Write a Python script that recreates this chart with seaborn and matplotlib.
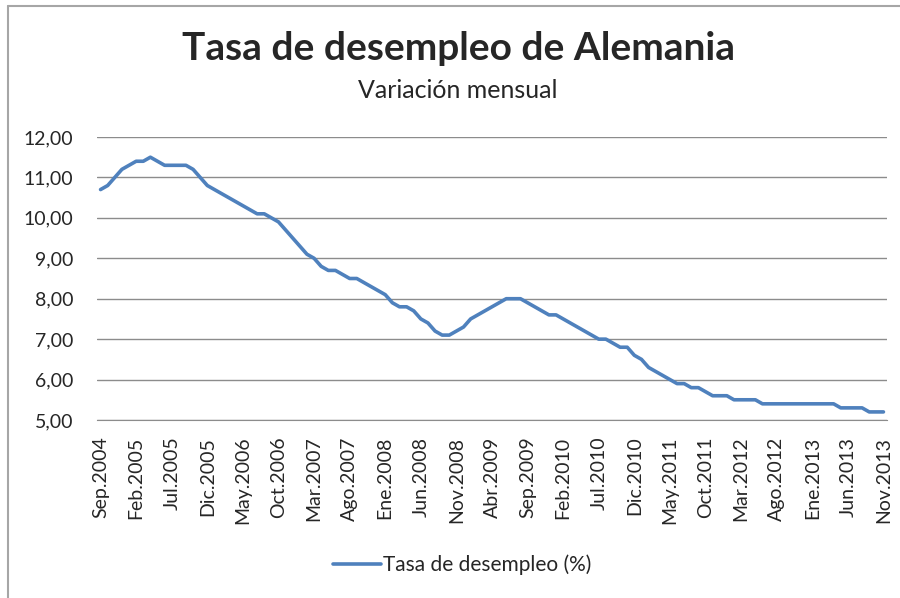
import matplotlib
matplotlib.use("Agg")
import matplotlib.pyplot as plt
from matplotlib.lines import Line2D
from matplotlib.ticker import FuncFormatter
import numpy as np
import pandas as pd
import seaborn as sns

# Spanish month abbreviations used on the category axis
meses = ["Ene", "Feb", "Mar", "Abr", "May", "Jun",
         "Jul", "Ago", "Sep", "Oct", "Nov", "Dic"]

# Monthly unemployment rate, Sep.2004 .. Nov.2013
tasa = [
    10.7, 10.8, 11.0, 11.2,                                              # 2004 Sep-Dic
    11.3, 11.4, 11.4, 11.5, 11.4, 11.3, 11.3, 11.3, 11.3, 11.2, 11.0, 10.8,  # 2005
    10.7, 10.6, 10.5, 10.4, 10.3, 10.2, 10.1, 10.1, 10.0, 9.9, 9.7, 9.5,     # 2006
    9.3, 9.1, 9.0, 8.8, 8.7, 8.7, 8.6, 8.5, 8.5, 8.4, 8.3, 8.2,              # 2007
    8.1, 7.9, 7.8, 7.8, 7.7, 7.5, 7.4, 7.2, 7.1, 7.1, 7.2, 7.3,              # 2008
    7.5, 7.6, 7.7, 7.8, 7.9, 8.0, 8.0, 8.0, 7.9, 7.8, 7.7, 7.6,              # 2009
    7.6, 7.5, 7.4, 7.3, 7.2, 7.1, 7.0, 7.0, 6.9, 6.8, 6.8, 6.6,              # 2010
    6.5, 6.3, 6.2, 6.1, 6.0, 5.9, 5.9, 5.8, 5.8, 5.7, 5.6, 5.6,              # 2011
    5.6, 5.5, 5.5, 5.5, 5.5, 5.4, 5.4, 5.4, 5.4, 5.4, 5.4, 5.4,              # 2012
    5.4, 5.4, 5.4, 5.4, 5.3, 5.3, 5.3, 5.3, 5.2, 5.2, 5.2,                   # 2013 Ene-Nov
]

# build month labels starting at Sep.2004
etiquetas = []
for k in range(len(tasa)):
    m = (8 + k) % 12
    y = 2004 + (8 + k) // 12
    etiquetas.append(f"{meses[m]}.{y}")

df = pd.DataFrame({"idx": np.arange(len(tasa)), "tasa": tasa, "mes": etiquetas})

sns.set_style("white")
plt.rcParams["font.family"] = ["Lato", "DejaVu Sans"]

fig = plt.figure(figsize=(9, 5.98), dpi=100)
ax = fig.add_axes([97 / 900, 1 - 420 / 598, 790 / 900, 283 / 598])

sns.lineplot(data=df, x="idx", y="tasa", ax=ax, color="#4F81BD",
             linewidth=2.6, label="Tasa de desempleo (%)")

ax.set_xlim(-0.5, len(tasa) - 0.5)
ax.set_ylim(5, 12)
ax.set_yticks(np.arange(5, 12.5, 1))
ax.yaxis.set_major_formatter(FuncFormatter(lambda v, p: f"{v:.2f}".replace(".", ",")))
ax.set_xticks(df["idx"][::5])
ax.set_xticklabels(df["mes"][::5], rotation=90, fontsize=14)
ax.tick_params(axis="y", labelsize=14, length=0, pad=17)
ax.tick_params(axis="x", length=0, pad=12)
ax.set_xlabel("")
ax.set_ylabel("")

ax.grid(axis="y", color="#8c8c8c", linewidth=1)
ax.grid(axis="x", visible=False)
for s in ["top", "right", "left"]:
    ax.spines[s].set_visible(False)
ax.spines["bottom"].set_color("#8c8c8c")

ax.legend(loc="center", bbox_to_anchor=(462 / 900, 1 - 565 / 598),
          bbox_transform=fig.transFigure, frameon=False, fontsize=15,
          handlelength=2.3, handletextpad=0.1)

fig.text(459 / 900, 1 - 48 / 598, "Tasa de desempleo de Alemania",
         ha="center", va="center", fontsize=28, fontweight="bold")
fig.text(458 / 900, 1 - 90 / 598, "Variación mensual",
         ha="center", va="center", fontsize=18)

# chart border (cropped on the right and bottom)
fig.add_artist(Line2D([8 / 900, 8 / 900], [0, 1 - 6 / 598],
                      transform=fig.transFigure, color="#a6a6a6", linewidth=1.5))
fig.add_artist(Line2D([8 / 900, 1], [1 - 6 / 598, 1 - 6 / 598],
                      transform=fig.transFigure, color="#a6a6a6", linewidth=1.5))

fig.savefig("out.png", dpi=100)
